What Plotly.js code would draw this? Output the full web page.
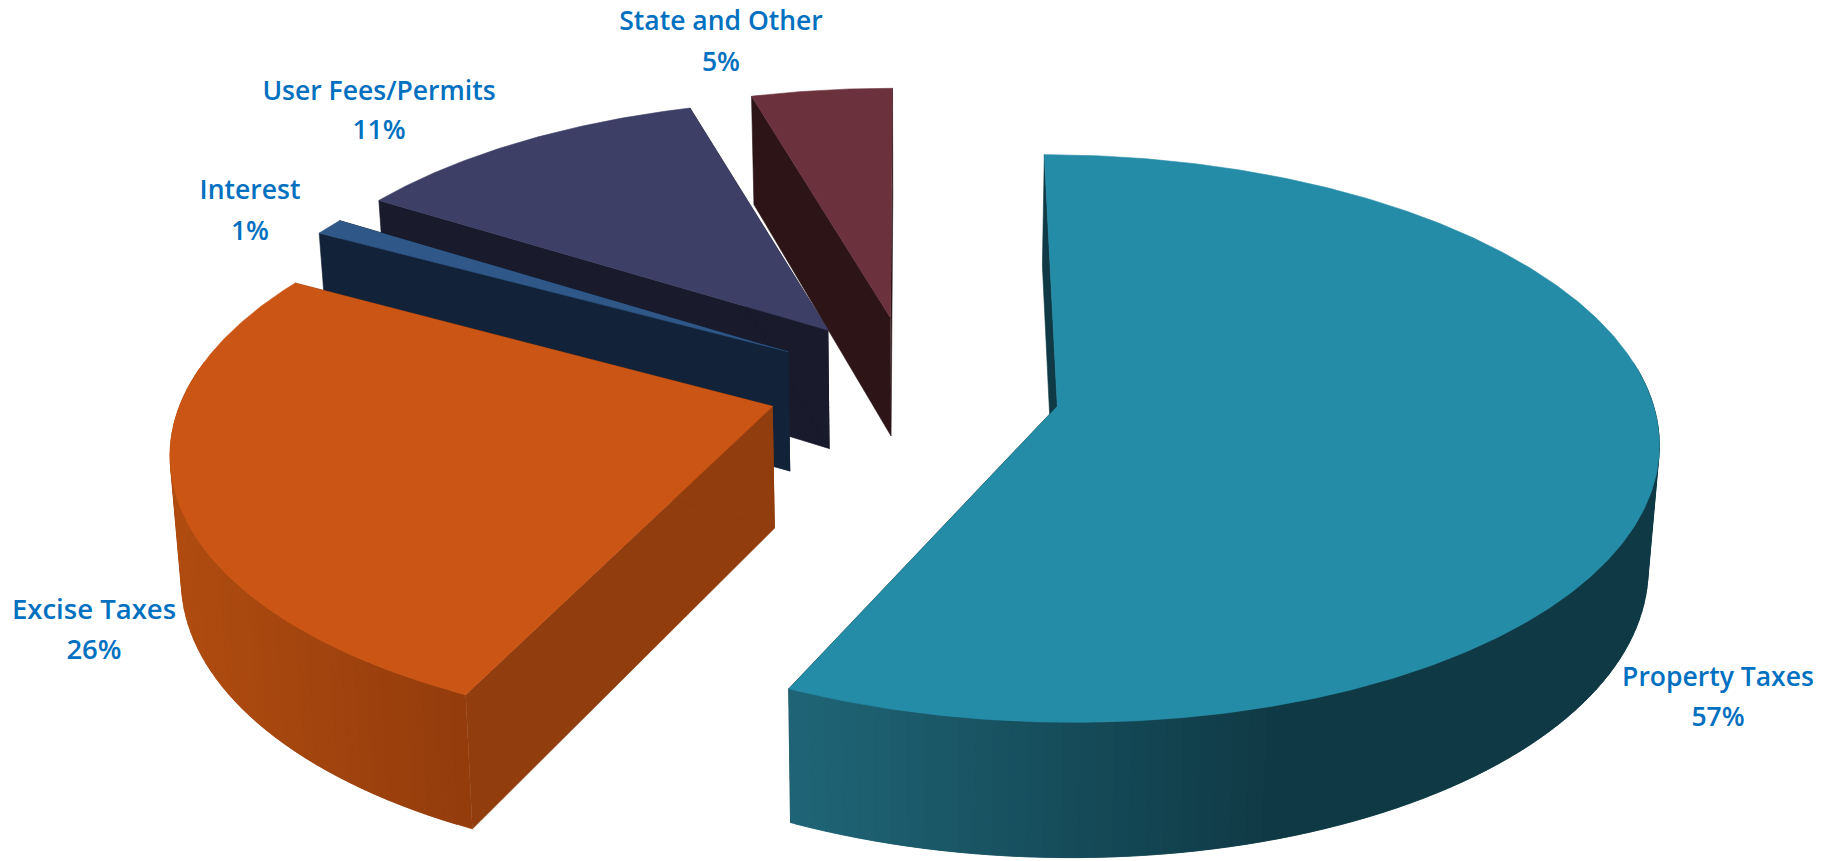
<!DOCTYPE html>
<html>
<head>
<meta charset="utf-8">
<title>Revenue Sources</title>
<script src="https://cdn.plot.ly/plotly-3.0.1.min.js"></script>
<style>html,body{margin:0;padding:0;background:#fff;overflow:hidden}#chart{width:1835px;height:861px}</style>
</head>
<body>
<div id="chart"></div>
<script>
// Revenue shares, clockwise from twelve o'clock
const categories = ["Property Taxes", "Excise Taxes", "Interest", "User Fees/Permits", "State and Other"];
const shares = [57, 26, 1, 11, 5];

// Face colours for each slice
const topColors = ["#258ca8", "#cb5514", "#2f5788", "#3e3f66", "#6b323d"];
const cutColors = ["#0f3a45", "#923d0e", "#122339", "#191a2b", "#2c1417"];
const rimLight = [[31, 101, 119], [176, 76, 16], [18, 35, 57], [25, 26, 43], [44, 20, 23]];
const rimDark = [[15, 58, 69], [147, 60, 12], [18, 35, 57], [25, 26, 43], [44, 20, 23]];
const rimRange = [[792, 1275], [170, 466], [0, 1], [0, 1], [0, 1]];

// Label placement in the page-sized axes
const labelX = [1718, 94, 250, 379, 721];
const nameY = [679, 612, 192, 93, 23];
const pctY = [719, 652, 233, 132, 64];
const labelSize = [26.5, 27.5, 26.5, 26.5, 26.5];
const labelColor = "#0070c0";

// Pie solid and camera
const view = {cx: 912, cy: 391, a: 607, b: 280, k: 0.1, depth: 121, converge: 0.985};
const explodeBySlice = [0.244, 0.24, 0.24, 0.23, 0.23];
const liftBySlice = [0, 0.02, 0.02, 0.04, 0.04];
const radiusBase = [0.99, 0.972, 0.955, 0.96, 0.965];
const radiusSlope = [0.015, 0.055, 0.02, 0.02, 0.02];
const widthBySlice = [0.987, 1, 1, 1, 1];
const farLean = [0, 0, 0, 2.3, 3.0];
const nearLean = [0.5, 0, 0, 0, 0];
const drawOrder = [4, 3, 2, 1, 0];
const arcStep = 1.5;

// Foreshortening of the far left quadrant and of the near left edge
function lean(t, i) {
  if (t > 302.4 && t < 360) {
    return t + farLean[i] * Math.pow(Math.sin(Math.PI * (t - 302.4) / 57.6), 2);
  }
  if (t > 150 && t <= 205.2) return t - nearLean[i] * (t - 150) / 55.2;
  return t;
}

// Disc coordinates (u right, v toward the viewer) to page-sized axes
function project(u, v, z) {
  const w = 1 / (1 - view.k * v);
  const f = z ? view.converge : 1;
  return [view.cx + view.a * u * w * f, view.cy + view.b * v * w + view.depth * z * w];
}

function polygon(points, color) {
  return {
    type: "scatter", mode: "lines", fill: "toself", fillcolor: color,
    x: points.map(p => p[0]), y: points.map(p => p[1]),
    line: {color: color, width: 0.6}, hoverinfo: "skip", showlegend: false
  };
}

function mix(c0, c1, t) {
  t = Math.max(0, Math.min(1, t));
  const c = c0.map((v, i) => Math.round(v + (c1[i] - v) * t));
  return `rgb(${c[0]},${c[1]},${c[2]})`;
}

// Cumulative angles of each slice
const angles = [];
let running = 0;
shares.forEach(s => {
  angles.push([running * 3.6, (running + s) * 3.6]);
  running += s;
});

const traces = [];
drawOrder.forEach(i => {
  const [start, end] = angles[i];
  const mid = (start + end) / 2 * Math.PI / 180;
  const ou = explodeBySlice[i] * Math.sin(mid);
  const ov = -explodeBySlice[i] * Math.cos(mid) - liftBySlice[i];
  const rim = t => {
    const r = lean(t, i) * Math.PI / 180;
    const radius = radiusBase[i] - radiusSlope[i] * Math.cos(r);
    return [ou + widthBySlice[i] * radius * Math.sin(r), ov - radius * Math.cos(r)];
  };

  // Straight cut faces
  [start, end].forEach(t => {
    const [u, v] = rim(t);
    traces.push(polygon([
      project(ou, ov, 0), project(u, v, 0), project(u, v, 1), project(ou, ov, 1)
    ], cutColors[i]));
  });

  // Curved outer wall, painted as overlapping shaded strips
  const steps = Math.ceil((end - start) / arcStep);
  for (let s = 0; s < steps; s++) {
    const t0 = start + (end - start) * s / steps;
    const t1 = start + (end - start) * (s + 1) / steps;
    if (-Math.cos((t0 + t1) / 2 * Math.PI / 180) < -0.15) continue;
    const t2 = Math.min(end, t1 + (end - start) / steps);
    const [u0, v0] = rim(t0);
    const [u1, v1] = rim(t1);
    const [u2, v2] = rim(t2);
    const strip = [
      project(u0, v0, 0), project(u1, v1, 0), project(u2, v2, 0),
      project(u2, v2, 1), project(u1, v1, 1), project(u0, v0, 1)
    ];
    const xm = (strip[0][0] + strip[1][0]) / 2;
    const [lo, hi] = rimRange[i];
    traces.push(polygon(strip, mix(rimLight[i], rimDark[i], (xm - lo) / (hi - lo))));
  }

  // Top face
  const outline = [project(ou, ov, 0)];
  const n = Math.ceil((end - start) / 0.5);
  for (let s = 0; s <= n; s++) {
    const [u, v] = rim(start + (end - start) * s / n);
    outline.push(project(u, v, 0));
  }
  traces.push(polygon(outline, topColors[i]));
});

// Category names and percentages
const labelFont = {family: "Open Sans, sans-serif", size: labelSize, color: labelColor, weight: 600};
traces.push({
  type: "scatter", mode: "text", x: labelX, y: nameY, text: categories,
  textposition: "middle center", hoverinfo: "skip", showlegend: false, textfont: labelFont
});
traces.push({
  type: "scatter", mode: "text", x: labelX, y: pctY, text: shares.map(s => s + "%"),
  textposition: "middle center", hoverinfo: "skip", showlegend: false, textfont: labelFont
});

const hidden = {visible: false, fixedrange: true};
Plotly.newPlot("chart", traces, {
  width: 1835, height: 861,
  margin: {l: 0, r: 0, t: 0, b: 0},
  paper_bgcolor: "#ffffff", plot_bgcolor: "#ffffff",
  xaxis: Object.assign({range: [0, 1835]}, hidden),
  yaxis: Object.assign({range: [861, 0]}, hidden),
  showlegend: false
}, {displayModeBar: false, staticPlot: true});
</script>
</body>
</html>
